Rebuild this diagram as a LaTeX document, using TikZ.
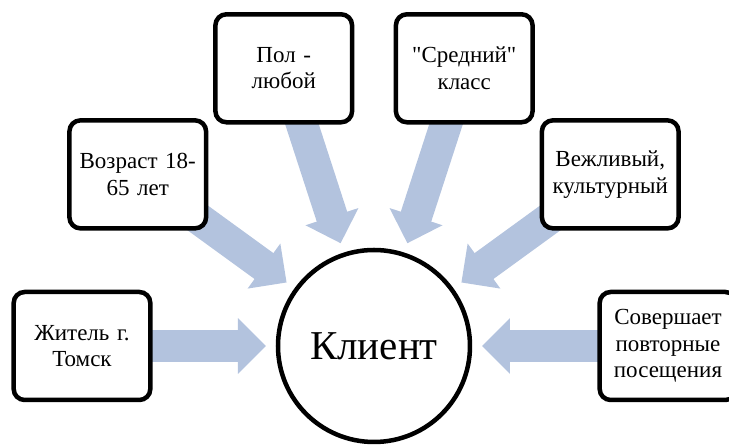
\documentclass[tikz,border=0pt]{standalone}
\usepackage{fontspec}
\setmainfont{Liberation Serif}[Ligatures=TeXOff]
\usetikzlibrary{arrows.meta,calc,backgrounds}
\definecolor{arrowblue}{RGB}{179,195,222}
\begin{document}
\begin{tikzpicture}[x=1pt,y=1pt,
  box/.style={draw,line width=4.5pt,rounded corners=11pt,fill=white,minimum width=136pt,minimum height=108pt,text width=130pt,align=center,font=\fontsize{23}{26.5}\selectfont},
  fat/.style={arrowblue,line width=32pt,-{Triangle[width=54pt,length=28pt]}}]
\useasboundingbox (-374,-100) rectangle (355,346);
\node[draw,circle,fill=white,line width=4.5pt,minimum size=192pt,font=\fontsize{41}{48}\selectfont] (klient) at (0,0) {Клиент};

\node[box] (zhitel) at (180:292) {Житель г.\\Томск};
\node[box] (vozrast) at (144:292) {Возраст 18-\\65 лет};
\node[box] (pol) at (108:292) {Пол -\\любой};
\node[box] (sredniy) at (72:292) {"Средний"\\класс};
\node[box] (vezhliv) at (36:292) {Вежливый,\\культурный};
\node[box] (sovershaet) at (0:294) {Совершает\\повторные\\посещения};

\begin{scope}[on background layer]
\foreach \b in {zhitel,vozrast,pol,sredniy,vezhliv,sovershaet}
  \draw[fat] (\b.center) -- ($(klient.center)!108pt!(\b.center)$);
\end{scope}
\end{tikzpicture}
\end{document}
